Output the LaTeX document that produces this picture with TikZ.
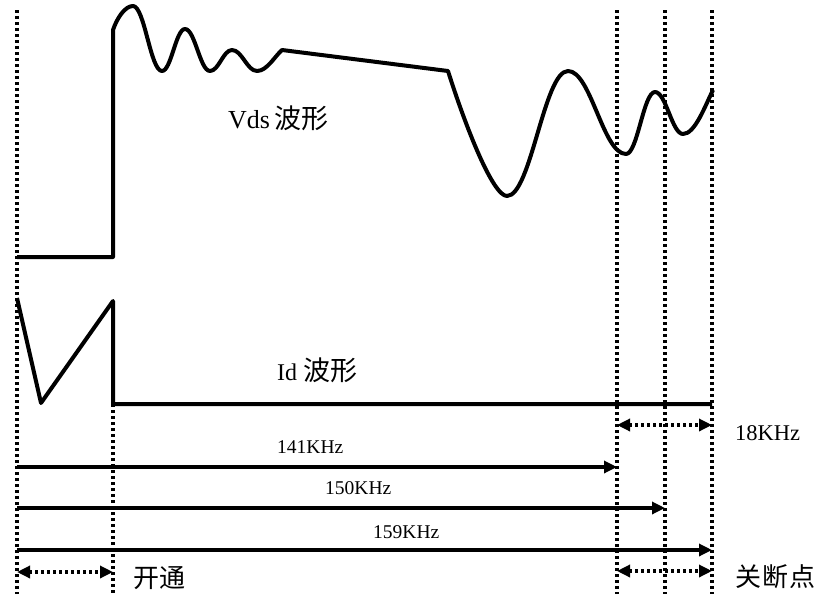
\documentclass[tikz,border=0pt]{standalone}
\usepackage{fontspec}
\setmainfont{Liberation Serif}
\newfontfamily\cjk{Noto Sans CJK SC}
\usetikzlibrary{arrows.meta}
\begin{document}
\begin{tikzpicture}[x=1pt,y=-1pt,
  wave/.style={line width=4pt,line join=round},
  tipA/.tip={Triangle[length=13pt,width=12pt]},
  solidarrow/.style={line width=3.2pt,-tipA},
  dotarrow/.style={line width=3.5pt,dash pattern=on 3pt off 3pt,tipA-tipA},
  guide/.style={line width=3.5pt,dash pattern=on 3pt off 3pt},
  lbl/.style={inner sep=0pt,anchor=base west},
  cjklbl/.style={inner sep=0pt,anchor=west,font=\cjk\fontsize{26}{26}\selectfont}]
\useasboundingbox (0,0) rectangle (815,595);

% guide coordinates
\coordinate (g1t) at (17,10);   \coordinate (g1b) at (17,594);
\coordinate (g2t) at (113,404); \coordinate (g2b) at (113,594);
\coordinate (g3t) at (617,10);  \coordinate (g3b) at (617,594);
\coordinate (g4t) at (665,10);  \coordinate (g4b) at (665,594);
\coordinate (g5t) at (712,10);  \coordinate (g5b) at (712,594);
\foreach \i in {1,...,5} \draw[guide] (g\i t) -- (g\i b);

% Vds waveform
\draw[wave] (17,257) -- (113,257) -- (113,30)
  .. controls (117,18) and (125,6) .. (133,6)
  .. controls (144.6,6) and (150.4,71) .. (162,71)
  .. controls (171.2,71) and (175.8,29) .. (185,29)
  .. controls (195,29) and (200,71) .. (210,71)
  .. controls (218.8,71) and (223.2,50) .. (232,50)
  .. controls (242,50) and (247,71) .. (257,71)
  .. controls (267,71) and (275,56) .. (282,50)
  -- (448,71)
  .. controls (466,128) and (493,196) .. (507,196)
  .. controls (531,196) and (544,71) .. (568,71)
  .. controls (591,71) and (603,154) .. (626,154)
  .. controls (637.6,154) and (643.4,92) .. (655,92)
  .. controls (666,92) and (672,134) .. (683,134)
  .. controls (695,134) and (705,106) .. (713,90);

% Id waveform
\draw[wave] (17,298) -- (41,403) -- (113,301) -- (113,404) -- (712,404);

% labels of waveforms
\node[lbl,font=\fontsize{26}{26}\selectfont] (vdslbl) at (228,128) {Vds\hspace{4pt}{\cjk\fontsize{27}{27}\selectfont 波形}};
\node[lbl,font=\fontsize{24}{24}\selectfont] (idlbl) at (277,380) {Id\hspace{6pt}{\cjk\fontsize{27}{27}\selectfont 波形}};

% frequency arrows
\coordinate (a1s) at (17,467); \coordinate (a1e) at (617,467);
\coordinate (a2s) at (17,508); \coordinate (a2e) at (665,508);
\coordinate (a3s) at (17,550); \coordinate (a3e) at (712,550);
\draw[solidarrow] (a1s) -- (a1e);
\draw[solidarrow] (a2s) -- (a2e);
\draw[solidarrow] (a3s) -- (a3e);
\node[lbl,font=\fontsize{19.5}{19.5}\selectfont] (f141) at (277,453) {141KHz};
\node[lbl,font=\fontsize{19.5}{19.5}\selectfont] (f150) at (325,494) {150KHz};
\node[lbl,font=\fontsize{19.5}{19.5}\selectfont] (f159) at (373,538) {159KHz};

% dotted double arrows
\coordinate (on1) at (17,572);  \coordinate (on2) at (113,572);
\coordinate (r1a) at (617,425); \coordinate (r1b) at (712,425);
\coordinate (r2a) at (617,571); \coordinate (r2b) at (712,571);
\draw[dotarrow] (on1) -- (on2);
\draw[dotarrow] (r1a) -- (r1b);
\draw[dotarrow] (r2a) -- (r2b);
\node[lbl,font=\fontsize{22.5}{22.5}\selectfont] (f18) at (735,440) {18KHz};
\node[cjklbl] (kt) at (133,578) {开通};
\node[cjklbl] (gdd) at (735,577) {关\hspace{1pt}断\hspace{1pt}点};
\end{tikzpicture}
\end{document}
